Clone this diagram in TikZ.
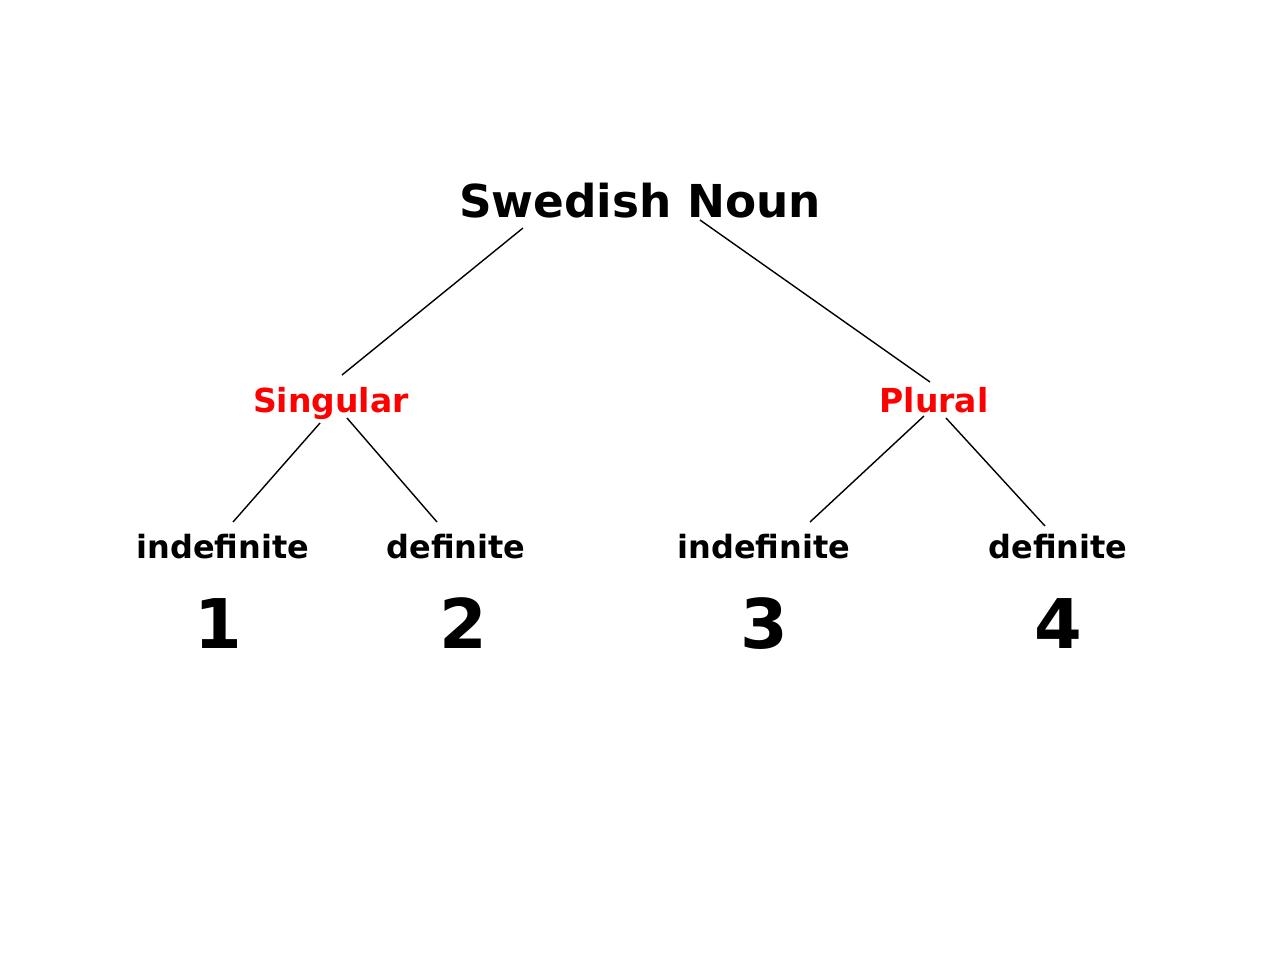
\documentclass[tikz,border=0pt]{standalone}
\usepackage{fontspec}
\setmainfont{DejaVu Sans}
\usetikzlibrary{calc}
\begin{document}
\begin{tikzpicture}[x=0.1mm,y=-0.1mm,
  word/.style={anchor=base, inner sep=0pt, font=\bfseries\fontsize{9.1}{11}\selectfont},
  case/.style={word, text=red, font=\bfseries\fontsize{9.4}{11}\selectfont},
  num/.style={word, font=\bfseries\fontsize{19.5}{22}\selectfont},
  branch/.style={line width=0.4pt, black}]
  \useasboundingbox (0,0) rectangle (1280,960);

  % Root
  \node[word, font=\bfseries\fontsize{12.9}{15}\selectfont] (noun) at (640,217) {Swedish Noun};

  % Number
  \node[case] (sing) at (331,412) {Singular};
  \node[case] (plur) at (934,412) {Plural};

  % Definiteness
  \node[word] (sindef) at (223,558) {indefinite};
  \node[word] (sdef) at (456,558) {definite};
  \node[word] (pindef) at (764,558) {indefinite};
  \node[word] (pdef) at (1058,558) {definite};

  % Forms
  \node[num] (f1) at (218,648) {1};
  \node[num] (f2) at (463,648) {2};
  \node[num] (f3) at (764,648) {3};
  \node[num] (f4) at (1058,648) {4};

  % Branches
  \draw[branch] ($(noun.base)+(-117,11)$) -- ($(sing.base)+(11,-37)$);
  \draw[branch] ($(noun.base)+(60,3)$) -- ($(plur.base)+(-4,-30)$);
  \draw[branch] ($(sing.base)+(-11,11)$) -- ($(sindef.base)+(10,-36)$);
  \draw[branch] ($(sing.base)+(16,6)$) -- ($(sdef.base)+(-19,-36)$);
  \draw[branch] ($(plur.base)+(-10,4)$) -- ($(pindef.base)+(46,-36)$);
  \draw[branch] ($(plur.base)+(12,6)$) -- ($(pdef.base)+(-13,-32)$);
\end{tikzpicture}
\end{document}
